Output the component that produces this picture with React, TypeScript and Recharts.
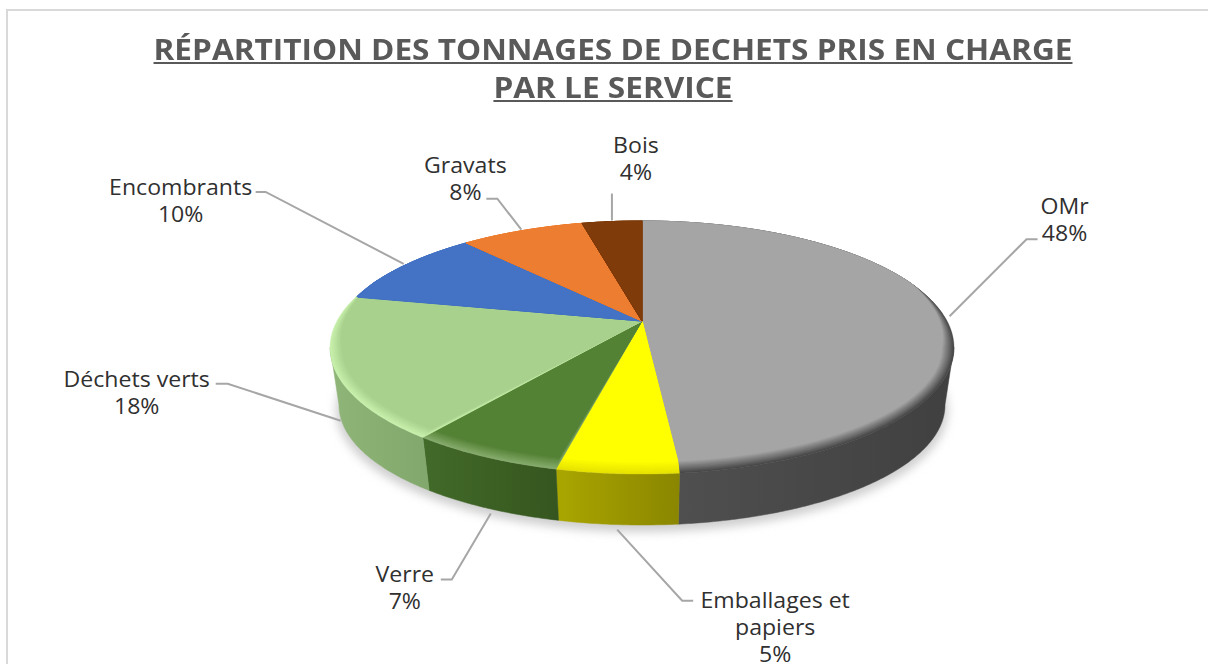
import { PieChart, Pie } from 'recharts';

// The labels show them rounded
const categories = ['OMr', 'Emballages et\npapiers', 'Verre', 'Déchets verts', 'Encombrants', 'Gravats', 'Bois'];
const tonnages = [48.45, 5.15, 6.6, 18.2, 10.0, 7.8, 3.8];
const titleLines = ['RÉPARTITION DES TONNAGES DE DECHETS PRIS EN CHARGE', 'PAR LE SERVICE'];

const topColors = ['#a5a5a5', '#ffff00', '#548235', '#a9d18e', '#4472c4', '#ed7d31', '#7f3b09'];
const rimColors = ['#474747', '#e6e200', '#86ab6c', '#c8f0ac', '#4472c4', '#ed7d31', '#7f3b09'];
const wallFrom = ['#4f4f4f', '#aaa600', '#426a29', '#8fb578', '#2f5597', '#b85f20', '#5c2a06'];
const wallTo = ['#404040', '#8a8600', '#36561f', '#82a86d', '#2f5597', '#b85f20', '#5c2a06'];

// leader line and text placement, relative to the rim point of each slice
const labelLayout = [
    { start: [6, 1], knee: [77, -77], tail: 11, text: [38, -34] },
    { start: [0, 56], knee: [65, 71], tail: 11, text: [93, -1] },
    { start: [7, 57], knee: [-39, 66], tail: -11, text: [-47, -6] },
    { start: [7, 54], knee: [-113, -37], tail: -12, text: [-91, -5] },
    { start: [0, -2], knee: [-138, -72], tail: -10, text: [-85, -5] },
    { start: [-1, -1], knee: [-24, -31], tail: -11, text: [-32, -34] },
    { start: [0, -1], knee: [0, -27], tail: 0, text: [24, -49] },
];

const FONT = '"Open Sans", sans-serif';
const chartData = categories.map((name, i) => ({ name, value: tonnages[i] }));

// perspective of the tilted disc
const K = 0.2095;
const A = 121;
const B_SCALE = 305 / 312;
const FACE_DY = A * K / (1 - K * K);
const FACE_RY = A / (1 - K * K);
const BOTTOM = { dy: 84, rxScale: 303 / 312, ry: 120 };

const rad = (deg: number) => (deg * Math.PI) / 180;

// recharts angle -> point on the disc rim, offset from the projected centre
const rimPoint = (cx: number, cy: number, r: number, angle: number) => {
    const X = Math.cos(rad(angle));
    const Y = -Math.sin(rad(angle));
    const d = 1 - K * Y;
    return { x: cx + (r * B_SCALE * X) / d, y: cy + (A * Y) / d };
};

const paramOf = (p: { x: number; y: number }, cx: number, cy: number, r: number) =>
    Math.atan2((p.y - cy - FACE_DY) / FACE_RY, (p.x - cx) / r);

const sampleAngles = (a0: number, a1: number, step = 0.5) => {
    const n = Math.max(2, Math.ceil(Math.abs(a1 - a0) / step));
    return Array.from({ length: n + 1 }, (_, i) => a0 + ((a1 - a0) * i) / n);
};

const toPath = (pts: { x: number; y: number }[]) =>
    pts.map((p, i) => `${i ? 'L' : 'M'}${p.x.toFixed(2)} ${p.y.toFixed(2)}`).join('') + 'Z';

const mix = (c1: string, c2: string, t: number) => {
    const ch = (c: string, i: number) => parseInt(c.slice(1 + i * 2, 3 + i * 2), 16);
    const out = [0, 1, 2].map(i => Math.round(ch(c1, i) + (ch(c2, i) - ch(c1, i)) * t));
    return `rgb(${out.join(',')})`;
};

const BEVEL = 12;
const BAND_COUNT = 10;

const Slab = (props: any) => {
    const { cx, cy, outerRadius: r, startAngle, endAngle, index } = props;
    const angles = sampleAngles(startAngle, endAngle);
    const rim = angles.map(a => rimPoint(cx, cy, r, a));
    const us = rim.map(p => paramOf(p, cx, cy, r));

    // wall, only the part of the arc that faces the viewer
    const front = us.map((u, i) => ({ u, p: rim[i] })).filter(s => Math.sin(s.u) >= -0.005);
    let wall = null;
    if (front.length > 1) {
        const bottom = front.map(s => ({
            x: cx + r * BOTTOM.rxScale * Math.cos(s.u),
            y: cy + BOTTOM.dy + BOTTOM.ry * Math.sin(s.u),
        }));
        const xs = front.map(s => s.p.x);
        wall = (
            <>
                <defs>
                    <linearGradient
                        id={`wall-${index}`}
                        gradientUnits="userSpaceOnUse"
                        x1={Math.min(...xs)}
                        x2={Math.max(...xs)}
                        y1={0}
                        y2={0}
                    >
                        <stop offset="0%" stopColor={wallFrom[index]} />
                        <stop offset="100%" stopColor={wallTo[index]} />
                    </linearGradient>
                </defs>
                <path
                    d={toPath([...front.map(s => s.p), ...bottom.reverse()])}
                    fill={`url(#wall-${index})`}
                    stroke={`url(#wall-${index})`}
                    strokeWidth={0.5}
                />
            </>
        );
    }

    // rounded edge, nested bands going from the face colour to the rim colour
    const bandPoint = (u: number, inset: number) => {
        const w = inset * Math.min(1, Math.max(0, (Math.sin(u) + 0.5) / 0.5));
        return {
            x: cx + (r - w) * Math.cos(u),
            y: cy + FACE_DY + (FACE_RY - w) * Math.sin(u),
        };
    };
    const bands = Array.from({ length: BAND_COUNT }, (_, b) => {
        const inset = BEVEL * (1 - (b + 1) / BAND_COUNT);
        const inner = us.map(u => bandPoint(u, inset));
        const t = (b + 1) / BAND_COUNT;
        const color = mix(topColors[index], rimColors[index], t);
        return <path key={b} d={toPath([{ x: cx, y: cy }, ...inner])} fill={color} stroke={color} strokeWidth={0.3} />;
    });

    return (
        <g>
            {wall}
            {bands.reverse()}
            <path
                d={toPath([{ x: cx, y: cy }, ...us.map(u => bandPoint(u, BEVEL))])}
                fill={topColors[index]}
                stroke={topColors[index]}
                strokeWidth={0.4}
            />
        </g>
    );
};

const DiscShadow = (props: any) => {
    const { cx, cy, outerRadius: r } = props;
    return (
        <g>
            <defs>
                <filter id="disc-shadow" x="-10%" y="-20%" width="120%" height="140%">
                    <feGaussianBlur stdDeviation="5" />
                </filter>
            </defs>
            <ellipse
                cx={cx}
                cy={cy + BOTTOM.dy + 5}
                rx={r * BOTTOM.rxScale + 3}
                ry={BOTTOM.ry + 2}
                fill="#cfcfcf"
                filter="url(#disc-shadow)"
            />
        </g>
    );
};

const SliceLabel = (props: any) => {
    const { cx, cy, outerRadius, midAngle, index, name, percent } = props;
    const layout = labelLayout[index];
    const rim = rimPoint(cx, cy, outerRadius, midAngle);
    const sx = rim.x + layout.start[0];
    const sy = rim.y + layout.start[1];
    const kx = sx + layout.knee[0];
    const ky = sy + layout.knee[1];
    const lines = [...String(name).split('\n'), `${Math.round(percent * 100)}%`];
    return (
        <g>
            <polyline
                points={`${sx},${sy} ${kx},${ky} ${kx + layout.tail},${ky}`}
                fill="none"
                stroke="#a6a6a6"
                strokeWidth={2}
            />
            {lines.map((line, i) => (
                // the source picture is stretched sideways, so the text is too
                <text
                    key={i}
                    transform={`translate(${kx + layout.text[0]} ${ky + layout.text[1] + i * 27}) scale(1.1 1)`}
                    textAnchor="middle"
                    dominantBaseline="central"
                    fontFamily={FONT}
                    fontSize={21}
                    fill="#303030"
                >
                    {line}
                </text>
            ))}
        </g>
    );
};

export default function App() {
    return (
        <div style={{ position: 'absolute', left: 0, top: 0, width: 1208, height: 664, overflow: 'hidden', background: '#fff' }}>
            <div style={{ position: 'absolute', left: 6, top: 9, width: 1300, height: 800, border: '2px solid #d9d9d9' }} />
            <div
                style={{
                    position: 'absolute',
                    left: 0,
                    top: 30,
                    width: 1226,
                    textAlign: 'center',
                    fontFamily: FONT,
                    fontWeight: 700,
                    fontSize: 28,
                    lineHeight: '38px',
                    color: '#595959',
                    textDecoration: 'underline',
                    transform: 'scaleX(1.128)',
                }}
            >
                {titleLines.map(line => (
                    <div key={line}>{line}</div>
                ))}
            </div>
            <div style={{ position: 'absolute', left: 0, top: 0 }}>
                <PieChart width={1208} height={664} margin={{ top: 0, right: 0, bottom: 0, left: 0 }}>
                    <Pie
                        data={[{ name: 'shadow', value: 100 }]}
                        dataKey="value"
                        cx={642}
                        cy={321}
                        outerRadius={312}
                        startAngle={90}
                        endAngle={-270}
                        stroke="none"
                        shape={DiscShadow}
                        isAnimationActive={false}
                    />
                    <Pie
                        data={chartData}
                        dataKey="value"
                        nameKey="name"
                        cx={642}
                        cy={321}
                        outerRadius={312}
                        startAngle={90}
                        endAngle={-270}
                        stroke="none"
                        shape={Slab}
                        label={SliceLabel}
                        labelLine={false}
                        isAnimationActive={false}
                    />
                </PieChart>
            </div>
        </div>
    );
}
